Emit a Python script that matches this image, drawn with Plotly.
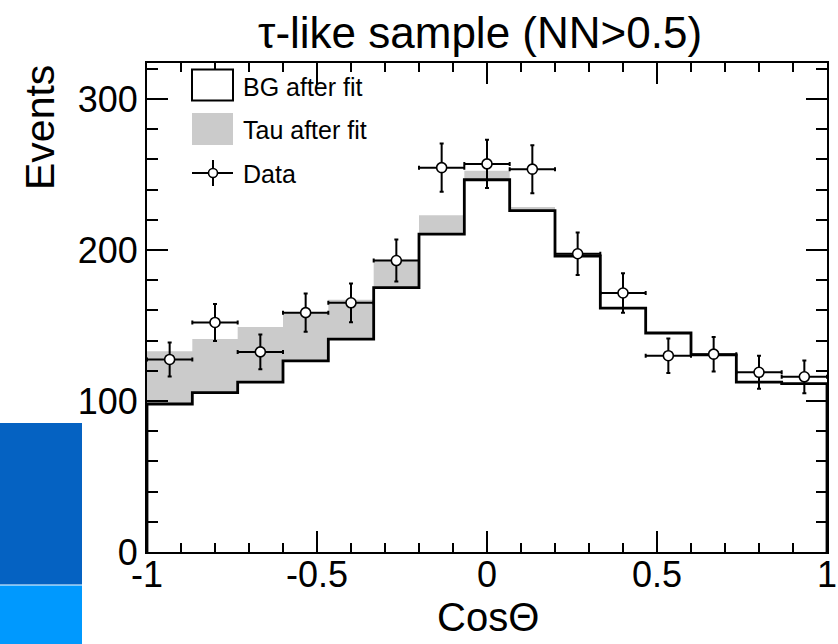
import plotly.graph_objects as go

# ---------------- data ----------------
bin_edges = [-1.0, -0.8667, -0.7333, -0.6, -0.4667, -0.3333, -0.2, -0.0667,
             0.0667, 0.2, 0.3333, 0.4667, 0.6, 0.7333, 0.8667, 1.0]
bg_after_fit = [98, 105.5, 112.5, 126.5, 141, 175, 210.5, 246.5, 226, 196,
                161.5, 145, 130.5, 112.5, 111.5]
tau_after_fit = [35, 35.5, 36.5, 32, 26, 18.5, 12.5, 6, 2.5, 2,
                 0.5, 0.3, 0.3, 0.2, 0.2]
data_values = [127.5, 152, 132.5, 158.5, 165, 193, 254.5, 257, 253.5, 197.5,
               171.5, 130, 131, 119, 116]
data_errors = [11.3, 12.3, 11.5, 12.6, 12.8, 13.9, 16.0, 16.0, 15.9, 14.0,
               13.1, 11.4, 11.4, 10.9, 10.8]
x_tickvals = [-1, -0.5, 0, 0.5, 1]
x_ticktext = ["-1", "-0.5", "0", "0.5", "1"]
y_tickvals = [0, 100, 200, 300]
y_ticktext = ["0", "100", "200", "300"]

FONT = "Liberation Sans, Arial, Helvetica, sans-serif"
GREY = "#cbcbcb"

# ---------------- derived step outlines ----------------
n = len(bg_after_fit)
centers = [(bin_edges[i] + bin_edges[i + 1]) / 2 for i in range(n)]
halfw = [(bin_edges[i + 1] - bin_edges[i]) / 2 for i in range(n)]
top = [bg_after_fit[i] + tau_after_fit[i] for i in range(n)]


def steps(vals):
    xs, ys = [], []
    for i in range(n):
        xs += [bin_edges[i], bin_edges[i + 1]]
        ys += [vals[i], vals[i]]
    return xs, ys


tx, ty = steps(top)
bx, by = steps(bg_after_fit)

fig = go.Figure()

# grey band (Tau after fit) stacked on BG
fig.add_trace(go.Scatter(
    x=tx + bx[::-1], y=ty + by[::-1], fill="toself", fillcolor=GREY,
    line=dict(width=0), mode="lines", hoverinfo="skip", showlegend=False))

# BG histogram outline
fig.add_trace(go.Scatter(
    x=[bin_edges[0]] + bx + [bin_edges[-1]], y=[0] + by + [0],
    mode="lines", line=dict(color="black", width=2.8), showlegend=False))

# data points
fig.add_trace(go.Scatter(
    x=centers, y=data_values, mode="markers",
    marker=dict(symbol="circle", size=10, color="white",
                line=dict(color="black", width=1.6)),
    error_x=dict(type="data", array=halfw, color="black", thickness=2, width=2),
    error_y=dict(type="data", array=data_errors, color="black", thickness=2, width=2),
    showlegend=False))

# ---------------- layout ----------------
L, R, T, B = 147, 11, 63, 92
W, H = 838, 644
pw, ph = W - L - R, H - T - B


def px(xp):
    return (xp - L) / pw


def py(yp):
    return (H - B - yp) / ph


shapes = [
    # background slide fragments bottom-left
    dict(type="rect", xref="paper", yref="paper", x0=px(0), x1=px(82), y0=py(423), y1=py(584.5),
         fillcolor="#0562c2", line=dict(width=0), layer="above"),
    dict(type="rect", xref="paper", yref="paper", x0=px(0), x1=px(82), y0=py(585.5), y1=py(644),
         fillcolor="#0099fe", line=dict(width=0), layer="above"),
    # legend symbols
    dict(type="rect", xref="paper", yref="paper", x0=px(192), x1=px(233), y0=py(69.5), y1=py(100.5),
         fillcolor="white", line=dict(color="black", width=2)),
    dict(type="rect", xref="paper", yref="paper", x0=px(192), x1=px(233), y0=py(113), y1=py(145),
         fillcolor=GREY, line=dict(width=0)),
    dict(type="line", xref="paper", yref="paper", x0=px(192), x1=px(233), y0=py(173), y1=py(173),
         line=dict(color="black", width=2)),
    dict(type="line", xref="paper", yref="paper", x0=px(213), x1=px(213), y0=py(160), y1=py(186),
         line=dict(color="black", width=2)),
    dict(type="circle", xref="paper", yref="paper", x0=px(208.5), x1=px(217.5), y0=py(168.5), y1=py(177.5),
         fillcolor="white", line=dict(color="black", width=1.6)),
]

annotations = [
    dict(text="τ-like sample (NN>0.5)", xref="paper", yref="paper", x=px(480), y=py(32),
         xanchor="center", yanchor="middle", showarrow=False, font=dict(size=44, color="black", family=FONT)),
    dict(text="Events", xref="paper", yref="paper", x=px(40), y=py(128), textangle=-90,
         xanchor="center", yanchor="middle", showarrow=False, font=dict(size=41, color="black", family=FONT)),
    dict(text="CosΘ", xref="paper", yref="paper", x=px(488), y=py(617),
         xanchor="center", yanchor="middle", showarrow=False, font=dict(size=40, color="black", family=FONT)),
    dict(text="BG after fit", xref="paper", yref="paper", x=px(241), y=py(87),
         xanchor="left", yanchor="middle", showarrow=False, font=dict(size=25, color="black", family=FONT)),
    dict(text="Tau after fit", xref="paper", yref="paper", x=px(241), y=py(130),
         xanchor="left", yanchor="middle", showarrow=False, font=dict(size=25, color="black", family=FONT)),
    dict(text="Data", xref="paper", yref="paper", x=px(241), y=py(174),
         xanchor="left", yanchor="middle", showarrow=False, font=dict(size=25, color="black", family=FONT)),
]

fig.update_layout(
    width=W, height=H,
    margin=dict(l=L, r=R, t=T, b=B, pad=0, autoexpand=False),
    paper_bgcolor="white", plot_bgcolor="white",
    font=dict(family=FONT, color="black"),
    showlegend=False,
    shapes=shapes, annotations=annotations,
)

fig.update_xaxes(
    range=[-1, 1], showgrid=False, zeroline=False, automargin=False,
    showline=True, linecolor="black", linewidth=2, mirror="allticks",
    ticks="inside", ticklen=21, tickwidth=1.5, tickcolor="black",
    tickvals=x_tickvals, ticktext=x_ticktext,
    tickfont=dict(size=36, family=FONT, color="black"), ticklabelstandoff=-10,
    minor=dict(dtick=0.1, tick0=0, ticks="inside", ticklen=9, tickwidth=1.5, tickcolor="black"),
)
fig.update_yaxes(
    range=[0, 323.8], showgrid=False, zeroline=False, automargin=False,
    showline=True, linecolor="black", linewidth=2, mirror="allticks",
    ticks="inside", ticklen=21, tickwidth=1.5, tickcolor="black",
    tickvals=y_tickvals, ticktext=y_ticktext,
    tickfont=dict(size=36, family=FONT, color="black"), ticklabelstandoff=0,
    minor=dict(dtick=20, tick0=0, ticks="inside", ticklen=11, tickwidth=1.5, tickcolor="black"),
)

fig.write_html("out.html")
